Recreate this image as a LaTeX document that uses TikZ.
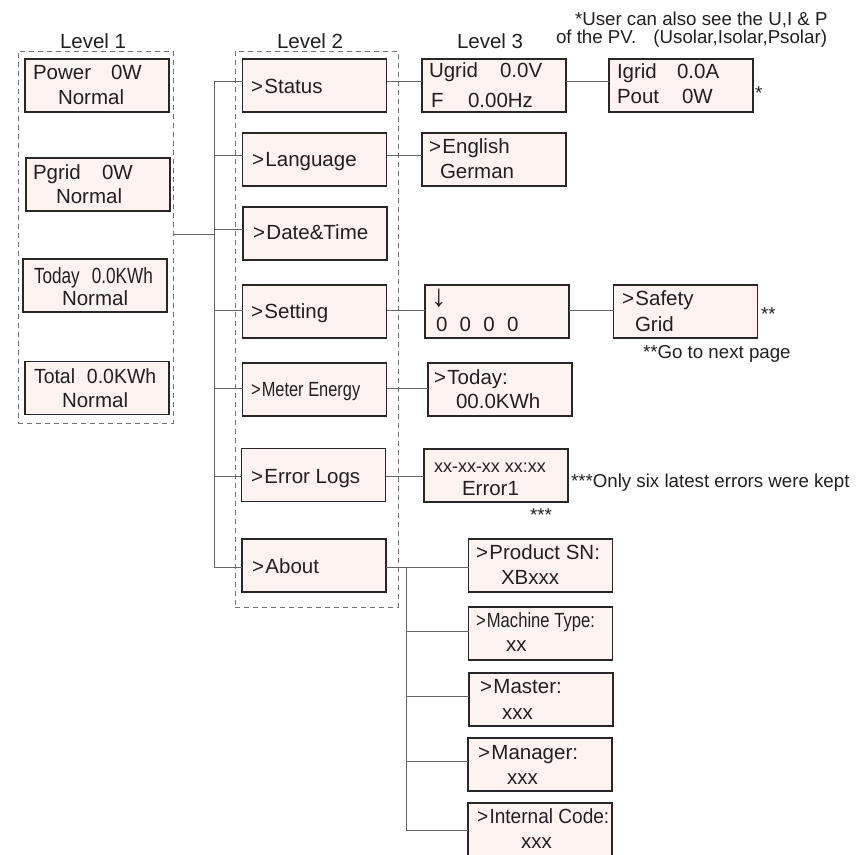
\documentclass[tikz,border=0pt]{standalone}
\usepackage{fontspec}
\setmainfont{Liberation Sans}
\usepackage{graphicx}
\definecolor{boxfill}{RGB}{253,244,241}
\definecolor{boxline}{RGB}{40,38,38}
\definecolor{connc}{RGB}{100,100,100}
\definecolor{framec}{RGB}{115,115,115}
\definecolor{textc}{RGB}{35,31,32}
\newcommand{\cond}[2]{\scalebox{#1}[1]{#2}}
\begin{document}
\begin{tikzpicture}[x=1pt,y=-1pt,
 lcd/.style={draw=boxline, line width=1.6pt, fill=boxfill, minimum width=144pt, minimum height=53pt, inner sep=0pt, outer sep=0pt},
 frame/.style={draw=framec, line width=0.9pt, dash pattern=on 5pt off 4pt, inner sep=0pt, outer sep=0pt},
 conn/.style={draw=connc, line width=0.9pt},
 txt/.style={anchor=base west, inner sep=0pt, outer sep=0pt, text=textc, font=\fontsize{20.5}{24}\selectfont},
 note/.style={anchor=base west, inner sep=0pt, outer sep=0pt, text=textc, font=\fontsize{18.7}{22}\selectfont},
]
\useasboundingbox (0,0) rectangle (856,854);

% dashed level frames
\node[frame, minimum width=155pt, minimum height=372pt] (F1) at (95.5,237) {};
\node[frame, minimum width=163pt, minimum height=556pt] (F2) at (316.5,329) {};

% connector coordinates
\coordinate (bj) at (214,234);
\coordinate (b1) at (214,81);
\coordinate (b2) at (214,155);
\coordinate (b3) at (214,229);
\coordinate (b4) at (214,310);
\coordinate (b5) at (214,388);
\coordinate (b6) at (214,476);
\coordinate (b7) at (214,567);
\coordinate (a1) at (406,567);
\coordinate (a2) at (406,631);
\coordinate (a3) at (406,696);
\coordinate (a4) at (406,761);
\coordinate (a5) at (406,830);

% Level 1 boxes
\node[lcd] (P1) at (97,85.5) {};
\node[lcd] (P2) at (98,184.5) {};
\node[lcd] (P3) at (95,285.5) {};
\node[lcd] (P4) at (97,388) {};

% Level 2 boxes
\node[lcd] (S)  at (314.5,85.5) {};
\node[lcd] (LG) at (314.5,159.5) {};
\node[lcd] (DT) at (315,233.5) {};
\node[lcd] (ST) at (314.5,311.5) {};
\node[lcd] (ME) at (314.5,389.5) {};
\node[lcd] (EL) at (313.5,475) {};
\node[lcd] (AB) at (314,565.5) {};

% Level 3 boxes
\node[lcd] (UG) at (494,85.5) {};
\node[lcd] (IG) at (681,85.5) {};
\node[lcd] (EN) at (494,159.5) {};
\node[lcd] (PW) at (497,311.5) {};
\node[lcd] (SF) at (685.5,311.5) {};
\node[lcd] (TD) at (500,389.5) {};
\node[lcd] (ER) at (496,475.5) {};
\node[lcd] (PSN) at (540.5,565.5) {};
\node[lcd] (MT) at (540.5,633.5) {};
\node[lcd] (MS) at (541,699.5) {};
\node[lcd] (MG) at (540,764.5) {};
\node[lcd] (IC) at (540,829.5) {};

% connectors
\draw[conn] (F1.east |- bj) -- (bj);
\draw[conn] (b1) -- (b7);
\draw[conn] (b1) -- (S.west |- b1);
\draw[conn] (b2) -- (LG.west |- b2);
\draw[conn] (b3) -- (DT.west |- b3);
\draw[conn] (b4) -- (ST.west |- b4);
\draw[conn] (b5) -- (ME.west |- b5);
\draw[conn] (b6) -- (EL.west |- b6);
\draw[conn] (b7) -- (AB.west |- b7);
\draw[conn] (S.east |- b1) -- (UG.west |- b1);
\draw[conn] (UG.east |- b1) -- (IG.west |- b1);
\draw[conn] (LG.east |- b2) -- (EN.west |- b2);
\draw[conn] (ST.east |- b4) -- (PW.west |- b4);
\draw[conn] (PW.east |- b4) -- (SF.west |- b4);
\draw[conn] (ME.east |- b5) -- (TD.west |- b5);
\draw[conn] (EL.east |- b6) -- (ER.west |- b6);
\draw[conn] (AB.east |- a1) -- (PSN.west |- a1);
\draw[conn] (a1) -- (a5);
\draw[conn] (a2) -- (MT.west |- a2);
\draw[conn] (a3) -- (MS.west |- a3);
\draw[conn] (a4) -- (MG.west |- a4);
\draw[conn] (a5) -- (IC.west |- a5);

% level labels
\node[txt] (lv1) at (60,48) {Level 1};
\node[txt] (lv2) at (277,48) {Level 2};
\node[txt] (lv3) at (457,48) {Level 3};

% notes
\node[note] (n1) at (575,25) {*User can also see the U,I \& P};
\node[note] (n2) at (556,43) {of the PV.};
\node[note, anchor=base east] (n3) at (827,43) {(Usolar,Isolar,Psolar)};
\node[note] (n4) at (755,99) {*};
\node[note] (n5) at (761,320) {**};
\node[note] (n6) at (643,358) {**Go to next page};
\node[note] (n7) at (571,487) {***Only six latest errors were kept};
\node[note] (n8) at (530,521) {***};

% Level 1 texts
\node[txt] (t1a) at (33,79) {Power};
\node[txt] (t1b) at (111,79) {0W};
\node[txt] (t1c) at (58,104) {Normal};
\node[txt] (t2a) at (33,179) {Pgrid};
\node[txt] (t2b) at (102,179) {0W};
\node[txt] (t2c) at (56,203) {Normal};
\node[txt, font=\fontsize{22}{26}\selectfont] (t3a) at (34,283) {\cond{0.78}{Today\hspace{15.4pt}0.0KWh}};
\node[txt] (t3c) at (62,305) {Normal};
\node[txt] (t4a) at (34,383) {\cond{0.95}{Total\hspace{12.5pt}0.0KWh}};
\node[txt] (t4c) at (62,407) {Normal};

% Level 2 texts
\node[txt] (s1) at (251,93) {>\kern1.5pt Status};
\node[txt] (s2) at (252,166) {>\kern1.5pt Language};
\node[txt] (s3) at (253,239) {>\kern1.5pt Date\&Time};
\node[txt] (s4) at (251,318) {>\kern1.5pt Setting};
\node[txt] (s5) at (251,396) {\cond{0.8}{>\kern1.5pt Meter Energy}};
\node[txt] (s6) at (251,483) {>\kern1.5pt Error Logs};
\node[txt] (s7) at (252,573) {>\kern1.5pt About};

% Level 3 texts
\node[txt] (u1) at (429,77) {Ugrid};
\node[txt] (u2) at (500,77) {0.0V};
\node[txt] (u3) at (431,107) {F};
\node[txt] (u4) at (468,107) {0.00Hz};
\node[txt] (i1) at (617,78) {Igrid};
\node[txt] (i2) at (677,78) {0.0A};
\node[txt] (i3) at (617,103) {Pout};
\node[txt] (i4) at (682,103) {0W};
\node[txt] (e1) at (429,153) {>\kern1.5pt English};
\node[txt] (e2) at (440,178) {German};
\node[txt, font=\fontsize{31}{34}\selectfont] (w1) at (431,306) {↓};
\node[txt] (w2) at (436,331) {0\hspace{12.3pt}0\hspace{12.3pt}0\hspace{12.3pt}0};
\node[txt] (f1) at (622,305) {>\kern1.5pt Safety};
\node[txt] (f2) at (635,331) {Grid};
\node[txt] (d1) at (434,384) {>\kern1.5pt Today:};
\node[txt] (d2) at (456,408) {00.0KWh};
\node[txt, font=\fontsize{18}{22}\selectfont] (r1) at (434,472) {xx-xx-xx xx:xx};
\node[txt] (r2) at (462,495) {Error1};

% About sub-menu texts
\node[txt] (p1) at (476,559) {>\kern1.5pt Product SN:};
\node[txt] (p2) at (501,584) {XBxxx};
\node[txt] (m1) at (476,627) {\cond{0.81}{>\kern1.5pt Machine Type:}};
\node[txt] (m2) at (506,651) {xx};
\node[txt] (ma1) at (480,693) {>\kern1.5pt Master:};
\node[txt] (ma2) at (502,719) {xxx};
\node[txt] (g1) at (478,759) {>\kern1.5pt Manager:};
\node[txt] (g2) at (507,784) {xxx};
\node[txt] (c1) at (477,823) {\cond{0.93}{>\kern1.5pt Internal Code:}};
\node[txt] (c2) at (521,848) {xxx};
\end{tikzpicture}
\end{document}
